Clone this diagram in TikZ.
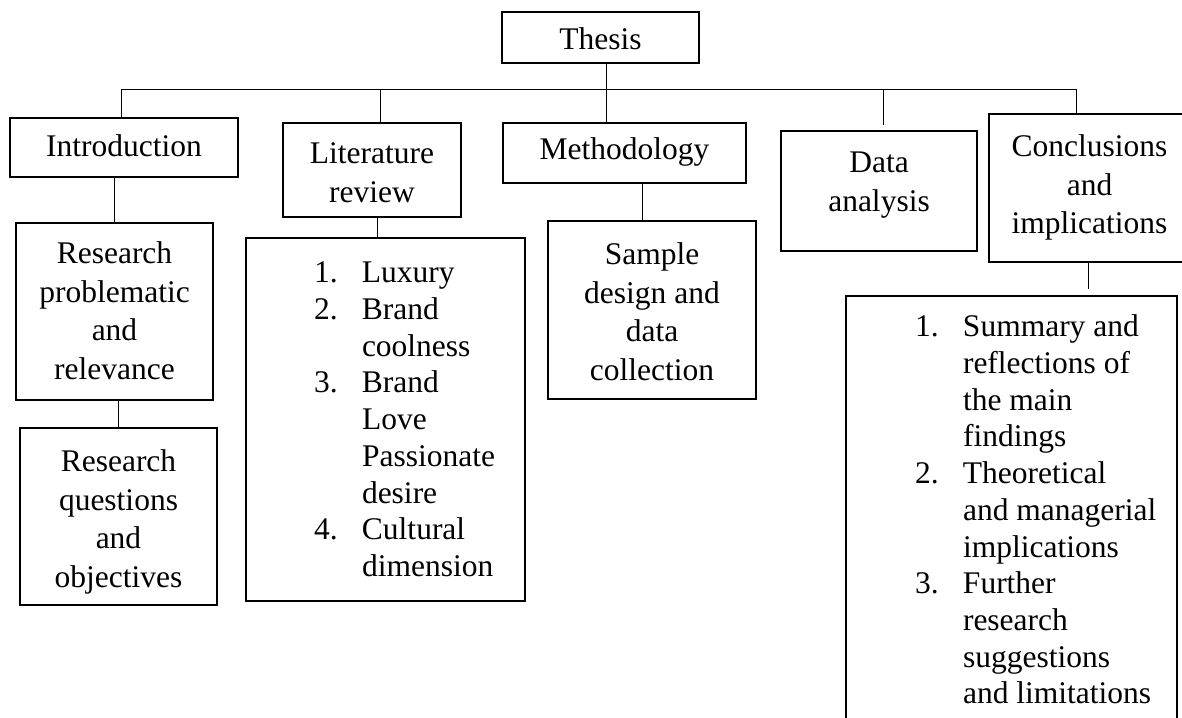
\documentclass[tikz,border=0pt]{standalone}
\usepackage{fontspec}
\setmainfont{Liberation Serif}
\begin{document}
\begin{tikzpicture}[x=1pt,y=-1pt,
  box/.style={draw, line width=1.4pt, rectangle, inner sep=0pt, outer sep=0pt},
  conn/.style={line width=0.9pt},
  txt/.style={inner sep=0pt, outer sep=0pt, align=center, anchor=north, font=\fontsize{31.5}{38.5}\selectfont},
  lst/.style={inner sep=0pt, outer sep=0pt, align=left, anchor=north west, font=\fontsize{31.5}{36.7}\selectfont}]
\useasboundingbox[fill=white] (0,0) rectangle (1182,717);
\newcommand{\numb}[1]{\makebox[48pt][l]{#1}}
\newcommand{\nonumb}{\makebox[48pt]{}}
% boxes
\node[box, minimum width=197pt, minimum height=51pt]  (thesis) at (600.5,37.5) {};
\node[box, minimum width=228pt, minimum height=59pt]  (intro)  at (124,147.5) {};
\node[box, minimum width=178pt, minimum height=94pt]  (lit)    at (372,170) {};
\node[box, minimum width=243pt, minimum height=60pt]  (meth)   at (624.5,153) {};
\node[box, minimum width=196pt, minimum height=120pt] (data)   at (879,191) {};
\node[box, minimum width=200pt, minimum height=148pt] (conc)   at (1089,188) {};
\node[box, minimum width=197pt, minimum height=177pt] (rp)     at (114.5,311.5) {};
\node[box, minimum width=197pt, minimum height=177pt] (rq)     at (118.5,516.5) {};
\node[box, minimum width=279pt, minimum height=363pt] (litlist) at (385.5,419.5) {};
\node[box, minimum width=208pt, minimum height=178pt] (sample) at (652,310) {};
\node[box, minimum width=331pt, minimum height=444pt] (cl)     at (1011.5,518) {};
% texts
\node[txt] (thesist) at (600.5,28) {Thesis};
\node[txt] (introt) at (124,135) {Introduction};
\node[txt] (litt) at (372,143) {Literature\\review};
\node[txt] (metht) at (624.5,138) {Methodology};
\node[txt] (datat) at (879,152) {Data\\analysis};
\node[txt] (conct) at (1089.5,135) {Conclusions\\and\\implications};
\node[txt] (rpt) at (114.5,242) {Research\\problematic\\and\\relevance};
\node[txt] (rqt) at (118.5,450) {Research\\questions\\and\\objectives};
\node[txt] (samplet) at (652,243) {Sample\\design and\\data\\collection};
\node[lst] (litlistt) at (314,262) {\numb{1.}Luxury\\\numb{2.}Brand\\\nonumb coolness\\\numb{3.}Brand\\\nonumb Love\\\nonumb Passionate\\\nonumb desire\\\numb{4.}Cultural\\\nonumb dimension};
\node[lst] (clt) at (915,315) {\numb{1.}Summary and\\\nonumb reflections of\\\nonumb the main\\\nonumb findings\\\numb{2.}Theoretical\\\nonumb and managerial\\\nonumb implications\\\numb{3.}Further\\\nonumb research\\\nonumb suggestions\\\nonumb and limitations};
% connectors
\coordinate (j) at (606,89);
\coordinate (bl) at (121,89);
\coordinate (br) at (1076,89);
\coordinate (ld) at (380,89);
\coordinate (dd) at (883,89);
\draw[conn] (thesis.south -| j) -- (meth.north -| j);
\draw[conn] (intro.north -| bl) |- (br) -- (conc.north -| br);
\draw[conn] (ld) -- (lit.north -| ld);
\draw[conn, shorten >=6pt] (dd) -- (data.north -| dd);
\draw[conn] (rp.north |- intro.south) -- (rp.north);
\draw[conn] (rq.north |- rp.south) -- (rq.north);
\draw[conn] ([xshift=5pt]lit.south) -- ([xshift=5pt]lit.south |- litlist.north);
\draw[conn] ([xshift=17.5pt]meth.south) -- ([xshift=17.5pt]meth.south |- sample.north);
\draw[conn, shorten >=7pt] ([xshift=-1pt]conc.south) -- ([xshift=-1pt]conc.south |- cl.north);
\end{tikzpicture}
\end{document}
